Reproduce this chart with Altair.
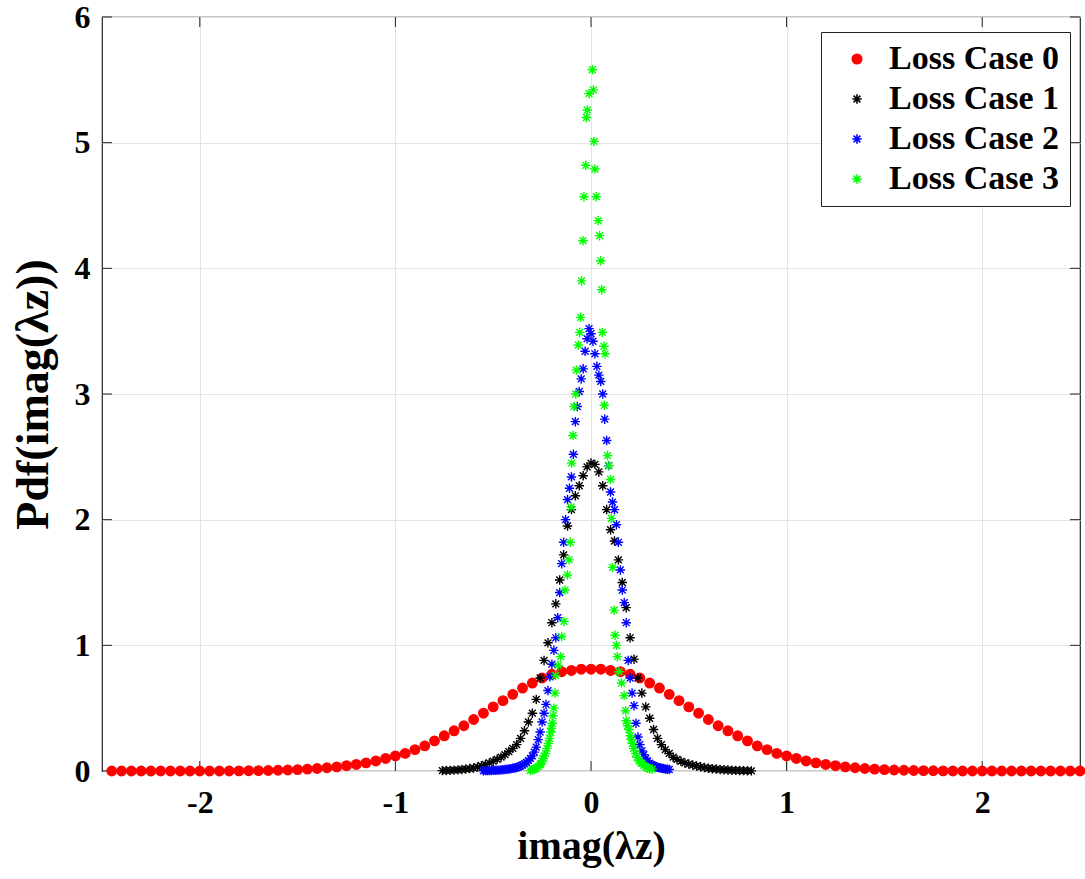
import altair as alt
import pandas as pd

# ---------------- data ----------------
series_names = ["Loss Case 0", "Loss Case 1", "Loss Case 2", "Loss Case 3"]
series_colors = ["#ff0000", "#000000", "#0000ff", "#00ff00"]

red_x = [-2.45, -2.40, -2.35, -2.30, -2.25, -2.20, -2.15, -2.10, -2.05, -2.00,
         -1.95, -1.90, -1.85, -1.80, -1.75, -1.70, -1.65, -1.60, -1.55, -1.50,
         -1.45, -1.40, -1.35, -1.30, -1.25, -1.20, -1.15, -1.10, -1.05, -1.00,
         -0.95, -0.90, -0.85, -0.80, -0.75, -0.70, -0.65, -0.60, -0.55, -0.50,
         -0.45, -0.40, -0.35, -0.30, -0.25, -0.20, -0.15, -0.10, -0.05, 0.00,
         0.05, 0.10, 0.15, 0.20, 0.25, 0.30, 0.35, 0.40, 0.45, 0.50,
         0.55, 0.60, 0.65, 0.70, 0.75, 0.80, 0.85, 0.90, 0.95, 1.00,
         1.05, 1.10, 1.15, 1.20, 1.25, 1.30, 1.35, 1.40, 1.45, 1.50,
         1.55, 1.60, 1.65, 1.70, 1.75, 1.80, 1.85, 1.90, 1.95, 2.00,
         2.05, 2.10, 2.15, 2.20, 2.25, 2.30, 2.35, 2.40, 2.45, 2.50]
red_y = [0.0, 0.0, 0.0, 0.0, 0.0, 0.0, 0.0, 0.0, 0.0, 0.0,
         0.0, 0.0, 0.0, 0.001, 0.002, 0.003, 0.004, 0.006, 0.008, 0.011,
         0.015, 0.020, 0.026, 0.033, 0.042, 0.052, 0.065, 0.080, 0.100, 0.120,
         0.14, 0.17, 0.20, 0.24, 0.28, 0.32, 0.36, 0.41, 0.46, 0.51,
         0.56, 0.61, 0.66, 0.70, 0.74, 0.77, 0.79, 0.80, 0.81, 0.81,
         0.81, 0.80, 0.79, 0.77, 0.74, 0.70, 0.66, 0.61, 0.56, 0.51,
         0.46, 0.41, 0.36, 0.32, 0.28, 0.24, 0.20, 0.17, 0.14, 0.12,
         0.100, 0.080, 0.065, 0.052, 0.042, 0.033, 0.026, 0.020, 0.015, 0.011,
         0.008, 0.006, 0.004, 0.003, 0.002, 0.001, 0.0, 0.0, 0.0, 0.0,
         0.0, 0.0, 0.0, 0.0, 0.0, 0.0, 0.0, 0.0, 0.0, 0.0]

black_x = [-0.76, -0.74, -0.72, -0.70, -0.68, -0.66, -0.64, -0.62, -0.60, -0.58,
           -0.56, -0.54, -0.52, -0.50, -0.48, -0.46, -0.44, -0.42, -0.40, -0.38,
           -0.36, -0.34, -0.32, -0.30, -0.28, -0.26, -0.24, -0.22, -0.20, -0.18,
           -0.16, -0.14, -0.12, -0.10, -0.08, -0.06, -0.04, -0.02, 0.00, 0.02,
           0.04, 0.06, 0.08, 0.10, 0.12, 0.14, 0.16, 0.18, 0.20, 0.22,
           0.24, 0.26, 0.28, 0.30, 0.32, 0.34, 0.36, 0.38, 0.40, 0.42,
           0.44, 0.46, 0.48, 0.50, 0.52, 0.54, 0.56, 0.58, 0.60, 0.62,
           0.64, 0.66, 0.68, 0.70, 0.72, 0.74, 0.76, 0.78, 0.80, 0.82]
black_y = [0.003, 0.004, 0.005, 0.007, 0.009, 0.012, 0.015, 0.019, 0.024, 0.032,
           0.042, 0.052, 0.064, 0.078, 0.093, 0.11, 0.13, 0.155, 0.18, 0.21,
           0.26, 0.32, 0.39, 0.46, 0.57, 0.74, 0.88, 1.02, 1.18, 1.33,
           1.52, 1.72, 1.95, 2.08, 2.19, 2.27, 2.35, 2.42, 2.45, 2.44,
           2.38, 2.27, 2.08, 1.92, 1.83, 1.68, 1.50, 1.30, 1.06, 0.89,
           0.74, 0.62, 0.51, 0.42, 0.33, 0.26, 0.21, 0.17, 0.14, 0.11,
           0.092, 0.077, 0.064, 0.055, 0.047, 0.040, 0.033, 0.027, 0.022, 0.018,
           0.015, 0.012, 0.010, 0.008, 0.006, 0.005, 0.004, 0.003, 0.002, 0.001]

blue_x = [-0.55, -0.54, -0.53, -0.52, -0.51, -0.50, -0.49, -0.48, -0.47, -0.46,
          -0.45, -0.44, -0.43, -0.42, -0.41, -0.40, -0.39, -0.38, -0.37, -0.36,
          -0.35, -0.34, -0.33, -0.32, -0.31, -0.30, -0.29, -0.28, -0.27, -0.26,
          -0.25, -0.24, -0.23, -0.22, -0.21, -0.20, -0.19, -0.18, -0.17, -0.16,
          -0.15, -0.14, -0.13, -0.12, -0.11, -0.10, -0.09, -0.08, -0.07, -0.06,
          -0.05, -0.04, -0.03, -0.02, -0.01, 0.00, 0.01, 0.02, 0.03, 0.04,
          0.05, 0.06, 0.07, 0.08, 0.09, 0.10, 0.11, 0.12, 0.13, 0.14,
          0.15, 0.16, 0.17, 0.18, 0.19, 0.20, 0.21, 0.22, 0.23, 0.24,
          0.25, 0.26, 0.27, 0.28, 0.29, 0.30, 0.31, 0.32, 0.33, 0.34,
          0.35, 0.36, 0.37, 0.38, 0.39, 0.40]
blue_y = [0.002, 0.003, 0.003, 0.004, 0.004, 0.005, 0.006, 0.006, 0.007, 0.008,
          0.010, 0.012, 0.014, 0.016, 0.018, 0.021, 0.024, 0.028, 0.034, 0.040,
          0.048, 0.057, 0.068, 0.082, 0.10, 0.12, 0.15, 0.19, 0.25, 0.31,
          0.39, 0.46, 0.53, 0.64, 0.75, 0.85, 0.96, 1.06, 1.22, 1.42,
          1.65, 1.82, 2.00, 2.16, 2.25, 2.34, 2.52, 2.78, 2.90, 3.02,
          3.12, 3.20, 3.34, 3.44, 3.52, 3.48, 3.42, 3.32, 3.22, 3.15,
          3.10, 3.00, 2.80, 2.63, 2.43, 2.22, 2.14, 2.08, 1.96, 1.82,
          1.60, 1.44, 1.34, 1.18, 0.88, 0.74, 0.62, 0.52, 0.38, 0.27,
          0.21, 0.16, 0.13, 0.10, 0.08, 0.062, 0.050, 0.042, 0.035, 0.030,
          0.026, 0.022, 0.019, 0.016, 0.014, 0.012]

green_x = [-0.31, -0.30, -0.29, -0.28, -0.27, -0.26, -0.257, -0.25, -0.245, -0.24,
           -0.232, -0.225, -0.218, -0.212, -0.206, -0.202, -0.198, -0.194, -0.19, -0.184,
           -0.181, -0.168, -0.155, -0.15, -0.138, -0.133, -0.121, -0.112, -0.106, -0.102,
           -0.099, -0.092, -0.087, -0.078, -0.075, -0.065, -0.058, -0.053, -0.048, -0.041,
           -0.036, -0.027, -0.024, -0.019, -0.010, 0.007, 0.012, 0.015, 0.020, 0.027,
           0.037, 0.044, 0.050, 0.055, 0.058, 0.066, 0.072, 0.068, 0.084, 0.092,
           0.100, 0.104, 0.110, 0.118, 0.123, 0.130, 0.135, 0.143, 0.156, 0.169,
           0.177, 0.180, 0.187, 0.194, 0.200, 0.206, 0.211, 0.218, 0.228, 0.236,
           0.245, 0.255, 0.262, 0.270, 0.280, 0.290, 0.300, 0.313]
green_y = [0.004, 0.010, 0.015, 0.022, 0.035, 0.050, 0.060, 0.080, 0.100, 0.120,
           0.140, 0.180, 0.220, 0.260, 0.310, 0.340, 0.380, 0.440, 0.500, 0.620,
           0.760, 0.840, 0.910, 1.070, 1.190, 1.440, 1.560, 1.680, 1.820, 2.100,
           2.450, 2.670, 2.900, 3.000, 3.190, 3.390, 3.490, 3.610, 3.900, 4.220,
           4.570, 4.820, 5.200, 5.260, 5.390, 5.580, 5.420, 5.010, 4.790, 4.570,
           4.380, 4.260, 4.060, 3.830, 3.490, 3.380, 3.320, 2.910, 2.510, 2.430,
           2.320, 2.010, 1.620, 1.280, 1.080, 1.000, 0.910, 0.790, 0.700, 0.600,
           0.480, 0.400, 0.360, 0.330, 0.280, 0.250, 0.220, 0.180, 0.140, 0.110,
           0.080, 0.065, 0.060, 0.045, 0.032, 0.024, 0.018, 0.015]

x_tick_values = [-2, -1, 0, 1, 2]
y_tick_values = [0, 1, 2, 3, 4, 5, 6]

# ---------------- build table ----------------
rows = []
for name, xs, ys in zip(series_names, [red_x, black_x, blue_x, green_x],
                        [red_y, black_y, blue_y, green_y]):
    assert len(xs) == len(ys), name
    for xv, yv in zip(xs, ys):
        rows.append({"x": xv, "y": yv, "series": name})
df = pd.DataFrame(rows)

W, H = 978, 754
FONT = "Liberation Serif"
AST = "M-1,0L1,0M0,-1L0,1M-0.72,-0.72L0.72,0.72M-0.72,0.72L0.72,-0.72"

x_scale = alt.Scale(domain=[-2.5, 2.5], nice=False, zero=False)
y_scale = alt.Scale(domain=[0, 6], nice=False, zero=False)

x_axis = alt.Axis(title="imag(λz)", values=x_tick_values, labelExpr="'' + datum.value",
                  titleY=87, titleBaseline="alphabetic", titleFontSize=40,
                  labelPadding=16)
y_axis = alt.Axis(title="Pdf(imag(λz))", values=y_tick_values, labelExpr="'' + datum.value",
                  titleX=-55, titleY=H / 2, titleAngle=270, titleAlign="center",
                  titleBaseline="alphabetic", titleFontSize=46, labelPadding=12)

legend = alt.Legend(title=None, orient="none", legendX=719, legendY=15,
                    fillColor="white", strokeColor="#222222", padding=10,
                    symbolOffset=9, labelOffset=15, rowPadding=6, labelLimit=0,
                    labelFont=FONT, labelFontSize=34, labelFontWeight="bold",
                    labelColor="black", symbolStrokeWidth=1.6, symbolSize=90)

points = alt.Chart(df).mark_point(filled=False, strokeWidth=1.4, opacity=1, size=90).encode(
    x=alt.X("x:Q", scale=x_scale, axis=x_axis),
    y=alt.Y("y:Q", scale=y_scale, axis=y_axis),
    color=alt.Color("series:N", scale=alt.Scale(domain=series_names, range=series_colors),
                    legend=legend),
    fill=alt.Fill("series:N", scale=alt.Scale(domain=series_names,
                                              range=["#ff0000", "transparent", "transparent", "transparent"]),
                  legend=legend),
    shape=alt.Shape("series:N", scale=alt.Scale(domain=series_names,
                                                range=["circle", AST, AST, AST]),
                    legend=legend),
)

# inward MATLAB-style tick marks
xt = pd.DataFrame({"x": x_tick_values})
yt = pd.DataFrame({"y": y_tick_values})
tick_bottom = alt.Chart(xt).mark_rule(color="#222222", strokeWidth=1).encode(
    x=alt.X("x:Q", scale=x_scale, axis=x_axis), y=alt.value(H), y2=alt.value(H - 10))
tick_top = alt.Chart(xt).mark_rule(color="#222222", strokeWidth=1).encode(
    x=alt.X("x:Q", scale=x_scale, axis=x_axis), y=alt.value(0), y2=alt.value(10))
tick_left = alt.Chart(yt).mark_rule(color="#222222", strokeWidth=1).encode(
    y=alt.Y("y:Q", scale=y_scale, axis=y_axis), x=alt.value(0), x2=alt.value(10))
tick_right = alt.Chart(yt).mark_rule(color="#222222", strokeWidth=1).encode(
    y=alt.Y("y:Q", scale=y_scale, axis=y_axis), x=alt.value(W), x2=alt.value(W - 10))

chart = alt.layer(tick_bottom, tick_top, tick_left, tick_right, points).properties(
    width=W, height=H,
    autosize=alt.AutoSizeParams(type="none"),
    padding={"left": 102, "top": 17, "right": 5, "bottom": 108},
    background="white",
).configure_view(
    stroke="#222222", strokeWidth=1.2
).configure_axis(
    grid=True, gridColor="#e3e3e3", gridWidth=1, domain=False, ticks=False,
    labelFont=FONT, labelFontSize=32, labelFontWeight="bold", labelColor="black",
    titleFont=FONT, titleFontWeight="bold", titleColor="black",
)

chart.save("out.html", embed_options={"renderer": "svg", "actions": False})
